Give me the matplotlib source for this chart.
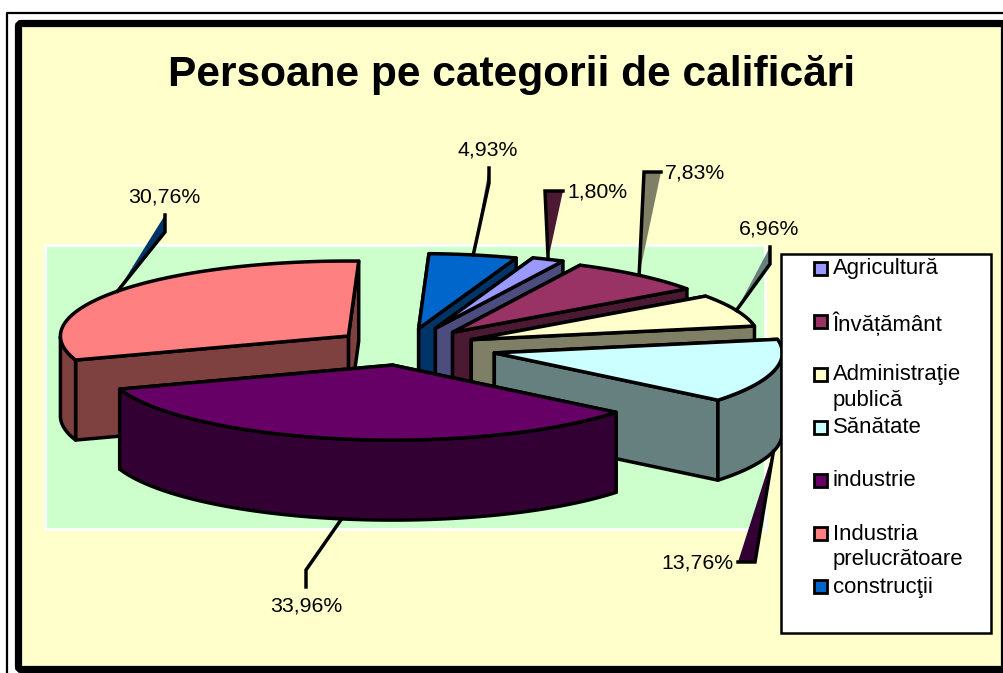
import numpy as np
import matplotlib
matplotlib.use("Agg")
import matplotlib.pyplot as plt
from matplotlib.patches import Polygon, Rectangle, FancyBboxPatch

plt.rcParams['font.family'] = ['Liberation Sans', 'DejaVu Sans']

# data
categories = ["Agricultură", "Învățământ", "Administraţie\npublică", "Sănătate",
              "industrie", "Industria\nprelucrătoare", "construcţii"]
values = [1.80, 7.83, 6.96, 13.76, 33.96, 30.76, 4.93]
colors = ["#9999FF", "#993366", "#FFFFCC", "#CCFFFF", "#660066", "#FF8080", "#0066CC"]
dark_colors = ["#4C4C7F", "#4C1933", "#7F7F66", "#667F7F", "#330033", "#7F4040", "#003366"]

# pie layout, in picture pixels
explode = [0.27, 0.255, 0.25, 0.32, 0.245, 0.245, 0.25]
center = (405, 347)
rx, ry = 288, 75
depth = 80
start_angle = 70.2
draw_order = [6, 0, 1, 5, 2, 3, 4]
LW = 2.5

# label layout: elbows of the leader, text position, alignment
leaders = [[(545, 191), (563, 191)], [(644, 172), (661, 172)], [(770, 264), (770, 247)],
           [(755, 562), (738, 562)], [(306, 570), (306, 587)], [(165, 232), (165, 215)],
           [(489, 183), (489, 168)]]
leader_filled = [True, True, True, True, False, True, True]
label_pos = [(567, 192), (665, 173), (769, 229), (734, 563), (306, 606), (164, 197), (488, 150)]
label_ha = ["left", "left", "center", "right", "center", "center", "center"]

fig = plt.figure(figsize=(10.04, 6.73), dpi=100, facecolor="white")
ax = fig.add_axes([0, 0, 1, 1])
ax.set_xlim(0, 1004)
ax.set_ylim(673, 0)
ax.axis("off")

# frames
ax.plot([7, 7, 1010], [680, 12.5, 12.5], color="black", lw=1.6, zorder=1)
ax.add_patch(FancyBboxPatch((18.5, 23.5), 986, 646, boxstyle="round,pad=0,rounding_size=3",
                            fc="#FFFFCC", ec="black", lw=5.2, zorder=2))
ax.add_patch(Rectangle((45.5, 244.5), 720, 284, fc="#CCFFCC", ec="white", lw=2, zorder=3))

ax.text(512, 75, "Persoane pe categorii de calificări", fontsize=30.6, fontweight="bold",
        ha="center", va="center", zorder=10)


def arc(apex, a0, a1):
    t = np.radians(np.linspace(a0, a1, 80))
    return np.column_stack([apex[0] + rx * np.cos(t), apex[1] - ry * np.sin(t)])


def face(pts, fc, z):
    ax.add_patch(Polygon(pts, closed=True, fc=fc, ec="black", lw=LW, joinstyle="round", zorder=z))


def extrude(pts):
    pts = np.asarray(pts)
    return np.vstack([pts, pts[::-1] + [0, depth]])


# angles and exploded apex of every slice
ends = start_angle - np.cumsum(values) * 3.6
starts = ends + np.array(values) * 3.6
mids = (starts + ends) / 2
apexes = []
for e, m in zip(explode, np.radians(mids)):
    apexes.append((center[0] + e * rx * np.cos(m), center[1] - e * ry * np.sin(m)))

z = 4.0
for i in draw_order:
    apex = apexes[i]
    outer = arc(apex, starts[i], ends[i])
    walls = [[apex, outer[0]], [apex, outer[-1]]]
    walls.sort(key=lambda w: (w[0][1] + w[1][1]) / 2)
    for w in walls:
        face(extrude(w), dark_colors[i], z)
        z += 0.001
    # only the front half of the rim can be seen
    front = outer[np.sin(np.radians(np.linspace(starts[i], ends[i], 80))) < 0]
    if len(front) > 1:
        face(extrude(front), dark_colors[i], z)
        z += 0.001
    face(np.vstack([[apex], outer]), colors[i], z)
    z += 0.001

# leaders and labels
for i, v in enumerate(values):
    apex = apexes[i]
    m = np.radians(mids[i])
    anchor = [apex[0] + rx * np.cos(m), apex[1] - ry * np.sin(m)]
    if np.sin(m) < 0:
        anchor[1] += depth
    path = [anchor] + leaders[i]
    if leader_filled[i]:
        next_dark = dark_colors[(i + 1) % len(values)]
        ax.add_patch(Polygon(path, closed=True, fc=next_dark, ec="none", zorder=6))
    ax.plot(*zip(*path), color="black", lw=LW, zorder=6.1, solid_joinstyle="miter")
    label = f"{v:.2f}%".replace(".", ",")
    ax.text(label_pos[i][0], label_pos[i][1], label, fontsize=15.3, ha=label_ha[i],
            va="center", zorder=10)

# legend
ax.add_patch(Rectangle((781.5, 253.5), 210, 379, fc="white", ec="black", lw=1.8, zorder=7))
for i, name in enumerate(categories):
    y = 268 + i * 53.1
    ax.add_patch(Rectangle((814.5, y - 6.5), 13, 13, fc=colors[i], ec="black", lw=2, zorder=8))
    ax.text(833, y - 10, name, fontsize=15.9, ha="left", va="top", linespacing=1.3, zorder=9)

fig.savefig("out.png", dpi=100, facecolor="white")
